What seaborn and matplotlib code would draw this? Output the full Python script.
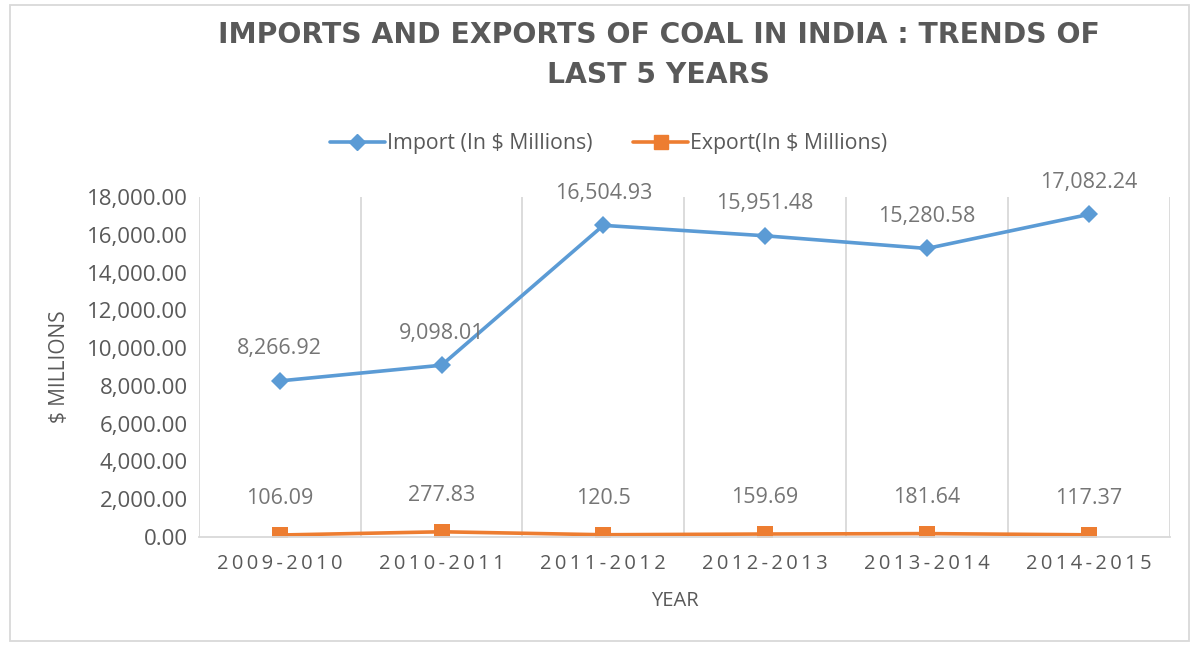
import pandas as pd
import matplotlib.pyplot as plt
import seaborn as sns
from matplotlib.lines import Line2D

# values
years = ['2009-2010', '2010-2011', '2011-2012', '2012-2013', '2013-2014', '2014-2015']
imports = [8266.92, 9098.01, 16504.93, 15951.48, 15280.58, 17082.24]
exports = [106.09, 277.83, 120.5, 159.69, 181.64, 117.37]
import_labels = ['8,266.92', '9,098.01', '16,504.93', '15,951.48', '15,280.58', '17,082.24']
export_labels = ['106.09', '277.83', '120.5', '159.69', '181.64', '117.37']

imp_name = 'Import (In $ Millions)'
exp_name = 'Export(In $ Millions)'
df = pd.DataFrame({
    'Year': years * 2,
    'Value': imports + exports,
    'Series': [imp_name] * len(years) + [exp_name] * len(years),
})

sns.set_style('white')
plt.rcParams['font.family'] = ['Open Sans', 'DejaVu Sans']

txt = '#595959'
fig = plt.figure(figsize=(11.91, 6.45), dpi=100)
ax = fig.add_axes([0.167, 0.1674, 0.815, 0.527])

pal = {imp_name: '#5B9BD5', exp_name: '#ED7D31'}
sns.lineplot(data=df, x='Year', y='Value', hue='Series', style='Series',
             palette=pal, markers={imp_name: 'D', exp_name: 's'},
             dashes=False, linewidth=2.6, ax=ax, legend=False,
             markersize=9, markeredgewidth=0)
for line in ax.lines:
    if line.get_color() == pal[exp_name]:
        line.set_markersize(11.5)

for i, (v, s) in enumerate(zip(imports, import_labels)):
    ax.annotate(s, (i, v), xytext=(0, 23), textcoords='offset points',
                ha='center', va='center', fontsize=15.5, color='#757575')
for i, (v, s) in enumerate(zip(exports, export_labels)):
    ax.annotate(s, (i, v), xytext=(0, 26), textcoords='offset points',
                ha='center', va='center', fontsize=15.5, color='#757575')

ax.set_xlim(-0.5, len(years) - 0.5)
ax.set_ylim(0, 18000)
ax.set_yticks(range(0, 18001, 2000))
ax.set_yticklabels([f'{v:,.2f}' for v in range(0, 18001, 2000)])
ax.set_xticks(range(len(years)))
ax.set_xticklabels(['\u2009'.join(y) for y in years])
ax.tick_params(axis='y', length=0, labelsize=16, labelcolor=txt, pad=8)
ax.tick_params(axis='x', length=0, labelsize=14.5, labelcolor=txt, pad=12)
for b in range(len(years) + 1):
    ax.axvline(b - 0.5, color='#d9d9d9', lw=1.3, zorder=0)
for sp in ['top', 'right', 'left']:
    ax.spines[sp].set_visible(False)
ax.spines['bottom'].set_color('#d9d9d9')
ax.spines['bottom'].set_linewidth(1.3)

ax.set_xlabel('YEAR', fontsize=14.5, color=txt)
ax.xaxis.set_label_coords(0.49, -0.16)
ax.set_ylabel('$ MILLIONS', fontsize=15, color=txt, labelpad=12)

fig.text(0.553, 0.968, 'IMPORTS AND EXPORTS OF COAL IN INDIA : TRENDS OF\nLAST 5 YEARS',
         ha='center', va='top', fontsize=20.3, fontweight='bold', color=txt,
         linespacing=1.58, family=['DejaVu Sans'])

handles = [Line2D([], [], color=pal[imp_name], marker='D', lw=2.6, markersize=8),
           Line2D([], [], color=pal[exp_name], marker='s', lw=2.6, markersize=10)]
fig.legend(handles, [imp_name, exp_name], loc='center', bbox_to_anchor=(0.511, 0.777),
           ncol=2, frameon=False, fontsize=15.3, labelcolor=txt,
           handlelength=2.6, handletextpad=0.1, columnspacing=1.9)

fig.patches.append(plt.Rectangle((0.008, 0.006), 0.99, 0.987, transform=fig.transFigure,
                                 fill=False, edgecolor='#d9d9d9', lw=1.3))

fig.savefig('out.png', dpi=100)
